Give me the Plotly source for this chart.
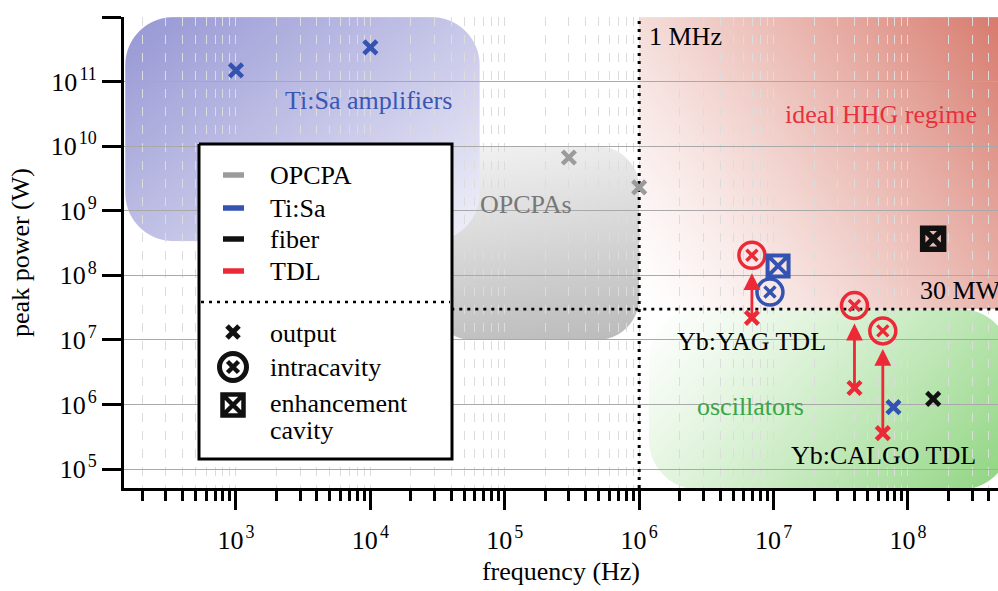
import base64
import struct
import zlib

import numpy as np
import plotly.graph_objects as go

# ---- measured systems: repetition rate (Hz) and peak power (W) ----
opcpa_out_f = [3.0e5, 1.0e6]
opcpa_out_p = [6.7e9, 2.3e9]

tisa_out_f = [1.0e3, 1.0e4, 7.8e7]
tisa_out_p = [1.5e11, 3.4e11, 9.1e5]
tisa_intra_f = [9.4e6]
tisa_intra_p = [5.5e7]
tisa_enh_f = [1.08e7]
tisa_enh_p = [1.4e8]

fiber_out_f = [1.54e8]
fiber_out_p = [1.22e6]
fiber_enh_f = [1.54e8]
fiber_enh_p = [3.7e8]

tdl_out_f = [6.9e6, 4.0e7, 6.5e7]
tdl_out_p = [2.2e7, 1.8e6, 3.6e5]
tdl_intra_f = [6.9e6, 4.0e7, 6.5e7]
tdl_intra_p = [2.05e8, 3.4e7, 1.38e7]

rep_rate_limit = 1.0e6   # 1 MHz
power_limit = 3.0e7      # 30 MW

x_tick_exp = [3, 4, 5, 6, 7, 8]
y_tick_exp = [5, 6, 7, 8, 9, 10, 11, 12]

# shaded regimes: (frequency span, power span)
tisa_box = ([1.5e2, 6.5e4], [3.4e8, 1.0e12])
opcpa_box = ([2.8e4, 1.0e6], [1.0e7, 1.0e10])
hhg_box = ([1.0e6, 6.0e8], [power_limit, 1.0e12])
osc_box = ([1.18e6, 5.8e8], [4.8e4, power_limit])

# ---- page geometry ----
W, H = 998, 591
ML, MR, MT, MB = 124, 0, 17, 103
PW, PH = W - ML - MR, H - MT - MB
X_RANGE = (2.1667, 8.670)
Y_RANGE = (4.706, 12.002)

FONT = "Liberation Serif"
BLUE = "#3352b1"
RED = "#ec2a37"
GRAY = "#9b9b9b"
BLACK = "#111111"


def px_x(lx):
    return ML + (lx - X_RANGE[0]) / (X_RANGE[1] - X_RANGE[0]) * PW


def px_y(ly):
    return MT + (Y_RANGE[1] - ly) / (Y_RANGE[1] - Y_RANGE[0]) * PH


def png_uri(rgba):
    h, w, _ = rgba.shape
    raw = b"".join(b"\x00" + rgba[i].tobytes() for i in range(h))

    def chunk(tag, data):
        body = tag + data
        return struct.pack(">I", len(data)) + body + struct.pack(">I", zlib.crc32(body) & 0xFFFFFFFF)

    png = (b"\x89PNG\r\n\x1a\n"
           + chunk(b"IHDR", struct.pack(">IIBBBBB", w, h, 8, 6, 0, 0, 0))
           + chunk(b"IDAT", zlib.compress(raw, 9))
           + chunk(b"IEND", b""))
    return "data:image/png;base64," + base64.b64encode(png).decode()


def lerp(c0, c1, t):
    t = np.clip(t, 0, 1)[..., None]
    return np.array(c0, float) * (1 - t) + np.array(c1, float) * t


def region_image(box, radius, shade):
    (f0, f1), (p0, p1) = box
    X0, X1 = px_x(np.log10(f0)), px_x(np.log10(f1))
    Y0, Y1 = px_y(np.log10(p1)), px_y(np.log10(p0))
    ix0, ix1 = int(np.floor(max(X0, ML))), int(np.ceil(min(X1, W - MR)))
    iy0, iy1 = int(np.floor(max(Y0, MT))), int(np.ceil(min(Y1, H - MB)))
    gx, gy = np.meshgrid(np.arange(ix0, ix1) + 0.5, np.arange(iy0, iy1) + 0.5)
    mx, my = (X0 + X1) / 2, (Y0 + Y1) / 2
    qx = np.abs(gx - mx) - ((X1 - X0) / 2 - radius)
    qy = np.abs(gy - my) - ((Y1 - Y0) / 2 - radius)
    dist = (np.hypot(np.maximum(qx, 0), np.maximum(qy, 0))
            + np.minimum(np.maximum(qx, qy), 0) - radius)
    alpha = np.clip(0.5 - dist, 0, 1)
    u = (gx - X0) / (X1 - X0)
    v = (gy - Y0) / (Y1 - Y0)
    rgb = shade(u, v)
    img = np.dstack([rgb, alpha * 255]).round().clip(0, 255).astype(np.uint8)
    return dict(source=png_uri(img), xref="paper", yref="paper",
                x=(ix0 - ML) / PW, y=1 - (iy0 - MT) / PH,
                sizex=(ix1 - ix0) / PW, sizey=(iy1 - iy0) / PH,
                xanchor="left", yanchor="top", sizing="stretch", layer="below")


images = [
    region_image(opcpa_box, 42, lambda u, v: lerp((243, 243, 243), (186, 186, 186), 0.15 * u + 0.85 * v)),
    region_image(tisa_box, 48, lambda u, v: lerp((150, 150, 212), (240, 240, 250), 0.55 * u + 0.45 * v)),
    region_image(hhg_box, 0, lambda u, v: lerp((255, 255, 255), (214, 118, 104),
                                               np.clip(0.65 * u + 0.35 * (1 - v), 0, 1) ** 1.3)),
    region_image(osc_box, 50, lambda u, v: lerp((255, 255, 255), (140, 212, 125),
                                                np.clip(0.7 * u + 0.3 * v, 0, 1) ** 1.2)),
]

fig = go.Figure()

# reference limits (the power line starts behind the key box)
y_lo, y_hi = 10 ** Y_RANGE[0], 10 ** Y_RANGE[1]
x_hi = 10 ** X_RANGE[1]
fig.add_trace(go.Scatter(x=[rep_rate_limit, rep_rate_limit], y=[y_lo, y_hi], mode="lines",
                         line=dict(color="black", width=3, dash="3px,5px"), hoverinfo="skip"))
fig.add_trace(go.Scatter(x=[4.0e4, x_hi], y=[power_limit, power_limit], mode="lines",
                         line=dict(color="black", width=2.6, dash="3px,5px"), hoverinfo="skip"))


def out_marks(f, p, color):
    fig.add_trace(go.Scatter(x=f, y=p, mode="markers", hoverinfo="skip",
                             marker=dict(symbol="x-thin-open", size=13, color=color,
                                         line=dict(width=4.5, color=color))))


def intra_marks(f, p, color):
    fig.add_trace(go.Scatter(x=f, y=p, mode="markers", hoverinfo="skip",
                             marker=dict(symbol="circle-open", size=26, color=color,
                                         line=dict(width=3.5, color=color))))
    fig.add_trace(go.Scatter(x=f, y=p, mode="markers", hoverinfo="skip",
                             marker=dict(symbol="x-thin-open", size=11, color=color,
                                         line=dict(width=3.5, color=color))))


def enh_marks(f, p, color, lw):
    fig.add_trace(go.Scatter(x=f, y=p, mode="markers", hoverinfo="skip",
                             marker=dict(symbol="square-x-open", size=21, color=color,
                                         line=dict(width=lw, color=color))))


out_marks(opcpa_out_f, opcpa_out_p, GRAY)
out_marks(tisa_out_f, tisa_out_p, BLUE)
out_marks(fiber_out_f, fiber_out_p, BLACK)
out_marks(tdl_out_f, tdl_out_p, RED)
intra_marks(tisa_intra_f, tisa_intra_p, BLUE)
intra_marks(tdl_intra_f, tdl_intra_p, RED)
enh_marks(tisa_enh_f, tisa_enh_p, BLUE, 4)
enh_marks(fiber_enh_f, fiber_enh_p, BLACK, 5.5)

# ---- key box, drawn on a pixel-unit overlay ----
key_left, key_right, key_top, key_bottom = 199, 452, 144, 459
key_kw = dict(xaxis="x2", yaxis="y2", hoverinfo="skip")
fig.add_trace(go.Scatter(x=[key_left, key_right, key_right, key_left, key_left],
                         y=[key_top, key_top, key_bottom, key_bottom, key_top],
                         mode="lines", fill="toself", fillcolor="white",
                         line=dict(color="black", width=3), **key_kw))
key_sources = [("OPCPA", GRAY, 175), ("Ti:Sa", BLUE, 208), ("fiber", BLACK, 239), ("TDL", RED, 271)]
for name, color, yy in key_sources:
    fig.add_trace(go.Scatter(x=[223, 244], y=[yy, yy], mode="lines",
                             line=dict(color=color, width=5.5), **key_kw))
fig.add_trace(go.Scatter(x=[key_left + 2, key_right - 2], y=[302, 302], mode="lines",
                         line=dict(color="black", width=2.6, dash="3px,5px"), **key_kw))
fig.add_trace(go.Scatter(x=[233], y=[332], mode="markers",
                         marker=dict(symbol="x-thin-open", size=12, color=BLACK,
                                     line=dict(width=5, color=BLACK)), **key_kw))
fig.add_trace(go.Scatter(x=[233], y=[367], mode="markers",
                         marker=dict(symbol="circle-open", size=27, color=BLACK,
                                     line=dict(width=5, color=BLACK)), **key_kw))
fig.add_trace(go.Scatter(x=[233], y=[367], mode="markers",
                         marker=dict(symbol="x-thin-open", size=11, color=BLACK,
                                     line=dict(width=4.5, color=BLACK)), **key_kw))
fig.add_trace(go.Scatter(x=[233], y=[405], mode="markers",
                         marker=dict(symbol="square-x-open", size=21, color=BLACK,
                                     line=dict(width=4.5, color=BLACK)), **key_kw))

annotations = []
key_text = [(name, yy) for name, _, yy in key_sources] + [
    ("output", 333), ("intracavity", 367), ("enhancement", 403), ("cavity", 430)]
for text, yy in key_text:
    annotations.append(dict(x=268, y=yy, xref="x2", yref="y2", text=text, showarrow=False,
                            xanchor="left", yanchor="middle",
                            font=dict(family=FONT, size=26, color="black")))


def label(text, f, p, color, xanchor="center", size=26):
    annotations.append(dict(x=np.log10(f), y=np.log10(p), xref="x", yref="y", text=text,
                            showarrow=False, xanchor=xanchor, yanchor="middle",
                            font=dict(family=FONT, size=size, color=color)))


label("Ti:Sa amplifiers", 9.6e3, 5.2e10, "#3a56b4")
label("OPCPAs", 1.44e5, 1.27e9, "#777777")
label("1 MHz", 1.15e6, 5.1e11, "black", xanchor="left")
label("ideal HHG regime", 6.3e7, 3.05e10, "#e8313d")
label("30 MW", 1.19e8, 5.9e7, "black", xanchor="left")
label("Yb:YAG TDL", 6.9e6, 9.6e6, "black")
label("oscillators", 6.7e6, 9.2e5, "#3aa548")
label("Yb:CALGO TDL", 6.6e7, 1.6e5, "black")

# output -> intracavity arrows for the thin-disk lasers
for f, p_out, p_in in zip(tdl_out_f, tdl_out_p, tdl_intra_p):
    annotations.append(dict(x=np.log10(f), y=np.log10(p_in), ax=np.log10(f), ay=np.log10(p_out),
                            xref="x", yref="y", axref="x", ayref="y", text="",
                            showarrow=True, arrowhead=2, arrowsize=1.2, arrowwidth=2.8,
                            arrowcolor=RED, standoff=18, startstandoff=0))

minor_x = [k * 10 ** e for e in range(2, 9) for k in range(2, 10)
           if X_RANGE[0] <= np.log10(k * 10 ** e) <= X_RANGE[1]]


def power_label(e):
    return '10&#8202;<sup><span style="font-size:18px">%d</span></sup>' % e


fig.update_layout(
    width=W, height=H,
    margin=dict(l=ML, r=MR, t=MT, b=MB, pad=0),
    paper_bgcolor="white", plot_bgcolor="rgba(0,0,0,0)",
    showlegend=False,
    images=images,
    annotations=annotations,
    font=dict(family=FONT, size=26, color="black"),
    xaxis=dict(
        type="log", range=list(X_RANGE), autorange=False,
        tickmode="array", tickvals=[10 ** e for e in x_tick_exp],
        ticktext=[power_label(e) for e in x_tick_exp],
        ticks="outside", ticklen=19, tickwidth=3, tickcolor="black",
        ticklabelstandoff=8,
        showline=True, linewidth=3, linecolor="black",
        showgrid=True, gridcolor="#dcdcdc", griddash="dash", gridwidth=1,
        minor=dict(tickmode="array", tickvals=minor_x, ticks="outside", ticklen=10,
                   tickwidth=2.5, tickcolor="black", showgrid=True, gridcolor="#dcdcdc",
                   griddash="dash", gridwidth=1),
        tickfont=dict(family=FONT, size=26),
        title=dict(text="frequency (Hz)", font=dict(family=FONT, size=26), standoff=8),
    ),
    yaxis=dict(
        type="log", range=list(Y_RANGE), autorange=False,
        tickmode="array", tickvals=[10 ** e for e in y_tick_exp],
        ticktext=[power_label(e) for e in y_tick_exp],
        ticks="outside", ticklen=19, tickwidth=3, tickcolor="black",
        showline=True, linewidth=3, linecolor="black",
        showgrid=True, gridcolor="#a9a9a9", gridwidth=1.2,
        tickfont=dict(family=FONT, size=26),
        title=dict(text="peak power (W)", font=dict(family=FONT, size=26), standoff=14),
    ),
    xaxis2=dict(overlaying="x", range=[ML, W - MR], autorange=False, visible=False),
    yaxis2=dict(overlaying="y", range=[H - MB, MT], autorange=False, visible=False),
)

fig.write_html("out.html", config={"displayModeBar": False})
